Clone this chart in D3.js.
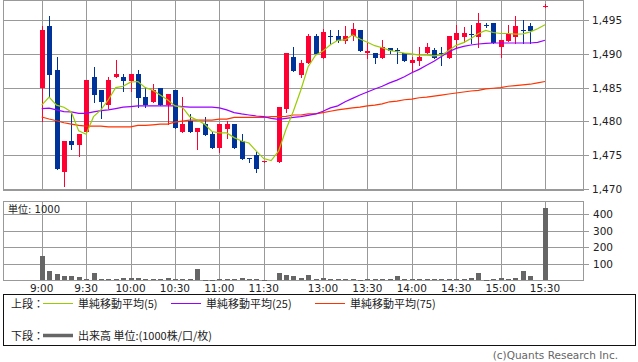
<!DOCTYPE html>
<html>
<head>
<meta charset="utf-8">
<script src="https://cdn.jsdelivr.net/npm/d3@7"></script>
<style>
  body { margin: 0; background: #fff; }
  svg { display: block; }
</style>
</head>
<body>
<div id="chart"></div>
<script>
// 5 minute bars: index 0 = 9:00, 31 = lunch gap, 67 = closing auction (no trades), 68 = 15:30
const tickIndex = [0, 6, 12, 18, 24, 30, 38, 44, 50, 56, 62, 68];
const tickLabels = ["9:00", "9:30", "10:00", "10:30", "11:00", "11:30", "13:00", "13:30", "14:00", "14:30", "15:00", "15:30"];
const priceTicks = [1470, 1475, 1480, 1485, 1490, 1495];
const volumeTicks = [100, 200, 300, 400];

const openPrices = [
  1485.0, 1494.1, 1487.6, 1472.5, 1477.1, 1476.55, 1478.5, 1486.6, 1484.6, 1482.5,
  1486.5, 1486.6, 1486.0, 1487.0, 1483.6, 1482.9, 1485.0, 1482.5, 1484.6, 1478.5,
  1480.0, 1478.5, 1479.6, 1478.1, 1476.0, 1478.9, 1479.6, 1477.05, 1474.55, 1475.0,
  1474.1, null, 1474.0, 1481.9, 1489.6, 1486.9, 1488.6, 1492.6, 1489.4, 1492.6,
  1492.6, 1491.9, 1492.6, 1493.5, 1490.07, 1490.07, 1489.4, 1490.9, 1490.5, 1490.1,
  1488.6, 1489.0, 1490.1, 1490.56, 1490.1, 1489.4, 1492.0, 1492.5, 1493.0, 1492.5,
  1494.2, 1494.5, 1490.96, 1491.9, 1492.5, 1493.45, 1494.1, null, 1497.1
];
const highPrices = [
  1494.1, 1495.6, 1489.5, 1477.1, 1481.2, 1478.1, 1486.1, 1488.0, 1484.6, 1486.6,
  1489.1, 1487.0, 1487.0, 1487.6, 1485.0, 1485.5, 1485.0, 1484.05, 1484.6, 1483.65,
  1481.1, 1479.0, 1480.6, 1478.5, 1479.6, 1480.05, 1479.6, 1478.1, 1474.55, 1475.5,
  1474.1, null, 1482.2, 1490.1, 1491.05, 1489.1, 1493.0, 1493.0, 1493.6, 1493.5,
  1493.5, 1494.1, 1494.5, 1493.5, 1491.7, 1490.07, 1492.0, 1490.9, 1490.9, 1490.1,
  1489.5, 1491.05, 1491.55, 1490.9, 1491.0, 1492.6, 1494.3, 1494.0, 1494.3, 1496.0,
  1494.5, 1494.5, 1492.0, 1494.3, 1495.6, 1495.0, 1494.5, null, 1497.3
];
const lowPrices = [
  1480.0, 1483.6, 1473.0, 1470.5, 1475.9, 1474.9, 1478.5, 1482.9, 1480.5, 1482.0,
  1486.5, 1484.5, 1484.5, 1482.1, 1482.1, 1482.9, 1482.5, 1479.6, 1479.0, 1478.5,
  1478.5, 1475.9, 1478.0, 1476.0, 1475.5, 1477.5, 1476.0, 1474.5, 1474.0, 1472.5,
  1474.0, null, 1474.0, 1481.4, 1487.5, 1486.5, 1488.6, 1490.0, 1489.4, 1491.55,
  1491.8, 1491.55, 1492.1, 1490.46, 1489.4, 1488.6, 1489.4, 1490.07, 1488.6, 1489.0,
  1487.5, 1488.3, 1490.1, 1489.4, 1488.3, 1489.4, 1490.8, 1491.8, 1491.55, 1491.05,
  1494.0, 1491.55, 1489.5, 1491.9, 1491.55, 1491.55, 1491.55, null, 1496.9
];
const closePrices = [
  1493.5, 1486.9, 1473.0, 1477.1, 1476.55, 1478.1, 1486.1, 1483.95, 1482.9, 1486.1,
  1487.0, 1486.0, 1487.0, 1483.5, 1482.5, 1484.6, 1482.5, 1484.05, 1479.0, 1479.6,
  1478.5, 1479.0, 1478.0, 1476.0, 1479.6, 1479.6, 1476.0, 1474.5, 1474.4, 1473.0,
  1474.1, null, 1482.2, 1490.1, 1487.5, 1488.6, 1492.6, 1490.0, 1493.2, 1492.55,
  1491.9, 1492.6, 1493.6, 1490.46, 1490.46, 1489.4, 1491.05, 1490.46, 1490.45, 1489.0,
  1489.1, 1489.6, 1491.05, 1489.4, 1490.0, 1492.6, 1493.1, 1493.1, 1492.9, 1494.5,
  1494.1, 1491.55, 1492.0, 1493.0, 1494.1, 1493.35, 1493.4, null, 1497.1
];
// volume, unit 1000
const volumes = [
  150, 55, 40, 26, 30, 24, 12, 48, 12, 12,
  12, 18, 18, 18, 12, 12, 12, 18, 12, 12,
  8, 67, 2, 6, 12, 12, 8, 18, 8, 12,
  3, null, 48, 36, 30, 18, 36, 12, 18, 8,
  8, 8, 8, 5, 12, 8, 12, 8, 30, 8,
  12, 12, 12, 8, 12, 12, 8, 8, 18, 48,
  3, 8, 18, 12, 18, 55, 30, null, 440
];
const ma5 = [
  1482.4, 1483.6, 1482.4, 1482.1, 1481.4, 1478.6, 1478.1, 1480.7, 1481.7, 1483.2,
  1485.0, 1485.2, 1485.8, 1485.9, 1485.0, 1484.6, 1483.9, 1483.2, 1482.3, 1482.1,
  1480.7, 1480.2, 1479.6, 1478.5, 1478.3, 1478.3, 1477.6, 1477.1, 1476.8, 1475.6,
  1474.5, 1474.2, 1475.6, 1478.8, 1481.5, 1484.6, 1488.1, 1489.8, 1490.4, 1491.35,
  1492.0, 1492.05, 1492.8, 1492.2, 1491.7, 1491.2, 1490.9, 1490.5, 1490.3, 1490.1,
  1490.0, 1489.8, 1489.8, 1489.7, 1489.8, 1490.5, 1491.25, 1491.65, 1492.25, 1493.0,
  1493.45, 1493.15, 1493.0, 1493.0, 1492.9, 1492.95, 1493.25, 1493.7, 1494.3
];
const ma25 = [
  1481.9, 1481.95, 1481.7, 1481.45, 1481.4, 1481.2, 1481.2, 1481.4, 1481.6, 1481.7,
  1481.9, 1482.1, 1482.2, 1482.3, 1482.3, 1482.3, 1482.3, 1482.3, 1482.3, 1482.2,
  1482.1, 1482.1, 1482.1, 1482.1, 1482.0, 1481.7, 1481.3, 1481.1, 1480.95, 1480.8,
  1480.7, 1480.45, 1480.3, 1480.45, 1480.6, 1480.7, 1480.9, 1481.1, 1481.5, 1482.0,
  1482.3, 1482.9, 1483.4, 1483.9, 1484.35, 1484.8, 1485.2, 1485.7, 1486.1, 1486.6,
  1487.2, 1487.7, 1488.3, 1488.9, 1489.6, 1490.3, 1490.8, 1491.1, 1491.3, 1491.45,
  1491.55, 1491.6, 1491.6, 1491.6, 1491.6, 1491.6, 1491.6, 1491.7, 1492.0
];
const ma75 = [
  1480.65, 1480.35, 1480.1, 1479.8, 1479.6, 1479.4, 1479.3, 1479.3, 1479.3, 1479.2,
  1479.2, 1479.2, 1479.2, 1479.4, 1479.4, 1479.5, 1479.6, 1479.6, 1479.9, 1480.05,
  1480.2, 1480.2, 1480.2, 1480.2, 1480.35, 1480.35, 1480.6, 1480.6, 1480.6, 1480.6,
  1480.6, 1480.7, 1480.7, 1480.75, 1480.95, 1480.95, 1481.1, 1481.1, 1481.3, 1481.5,
  1481.7, 1481.85, 1482.0, 1482.1, 1482.3, 1482.4, 1482.6, 1482.9, 1483.0, 1483.2,
  1483.3, 1483.5, 1483.6, 1483.75, 1483.9, 1484.05, 1484.2, 1484.35, 1484.5, 1484.6,
  1484.8, 1484.9, 1485.0, 1485.2, 1485.3, 1485.4, 1485.5, 1485.7, 1485.9
];

const legendUpper = [
  {label: "単純移動平均(5)", color: "#99cc00"},
  {label: "単純移動平均(25)", color: "#9900ff"},
  {label: "単純移動平均(75)", color: "#ff3300"}
];

class IntradayChart {
  constructor(parentId, width, height) {
    this.parentId = parentId;
    this.width = width;
    this.height = height;

    this.price = {left: 3.5, right: 583.5, top: 0.5, bottom: 190.5};
    this.vol = {left: 3.5, right: 583.5, top: 201.5, bottom: 280.5};

    this.up = "#ff0033";
    this.down = "#003399";
    this.grid = "#999999";
    this.numFont = '"DejaVu Sans", sans-serif';
    this.jpFont = '"Noto Sans CJK JP", sans-serif';

    this.init();
  }

  init() {
    let vis = this;

    vis.svg = d3.select("#" + vis.parentId)
      .append("svg")
      .attr("width", vis.width)
      .attr("height", vis.height);

    vis.x = d3.scaleLinear().domain([0, 68]).range([41.7, 545]);
    vis.y = d3.scaleLinear().domain([1470, 1495]).range([189, 20]);
    vis.yVol = d3.scaleLinear().domain([0, 400]).range([280.5, 214.3]);

    vis.drawFrames();
    vis.drawVolume();
    vis.drawCandles();
    vis.drawAverages();
    vis.drawLegend();
  }

  px(i) {
    return Math.round(this.x(i)) + 0.5;
  }

  drawFrames() {
    let vis = this;
    let g = vis.svg.append("g")
      .attr("stroke", vis.grid)
      .attr("shape-rendering", "crispEdges");

    [vis.price, vis.vol].forEach(p => {
      g.append("rect")
        .attr("x", p.left).attr("y", p.top)
        .attr("width", p.right - p.left).attr("height", p.bottom - p.top)
        .attr("fill", "none");

      g.selectAll(null)
        .data(tickIndex)
        .join("line")
        .attr("x1", d => vis.px(d)).attr("x2", d => vis.px(d))
        .attr("y1", p.top).attr("y2", p.bottom);
    });

    // price grid + right axis
    g.selectAll(null)
      .data(priceTicks)
      .join("line")
      .attr("x1", vis.price.left).attr("x2", vis.price.right + 5)
      .attr("y1", d => Math.round(vis.y(d)) + 0.5)
      .attr("y2", d => Math.round(vis.y(d)) + 0.5);

    vis.svg.append("g")
      .selectAll("text")
      .data(priceTicks)
      .join("text")
      .attr("x", 592)
      .attr("y", d => vis.y(d) + 4)
      .style("font-family", vis.numFont)
      .style("font-size", "10.5px")
      .attr("fill", "#222")
      .text(d => d3.format(",")(d));

    // volume grid + right axis
    g.selectAll(null)
      .data(volumeTicks)
      .join("line")
      .attr("x1", vis.vol.left).attr("x2", vis.vol.right + 5)
      .attr("y1", d => Math.round(vis.yVol(d)) + 0.5)
      .attr("y2", d => Math.round(vis.yVol(d)) + 0.5);

    vis.svg.append("g")
      .selectAll("text")
      .data(volumeTicks)
      .join("text")
      .attr("x", 593)
      .attr("y", d => vis.yVol(d) + 4)
      .style("font-family", vis.numFont)
      .style("font-size", "10.5px")
      .attr("fill", "#222")
      .text(d => d);

    // time labels
    vis.svg.append("g")
      .selectAll("text")
      .data(tickIndex)
      .join("text")
      .attr("x", d => vis.x(d))
      .attr("y", 292)
      .attr("text-anchor", "middle")
      .style("font-family", vis.numFont)
      .style("font-size", "10.5px")
      .attr("fill", "#222")
      .text((d, i) => tickLabels[i]);

    vis.svg.append("text")
      .attr("x", 8)
      .attr("y", 213)
      .style("font-family", '"DejaVu Sans", "Noto Sans CJK JP", sans-serif')
      .style("font-size", "10px")
      .attr("fill", "#222")
      .text("単位: 1000");
  }

  drawVolume() {
    let vis = this;
    let bars = volumes.map((v, i) => ({i: i, v: v})).filter(d => d.v != null);

    vis.svg.append("g")
      .attr("shape-rendering", "crispEdges")
      .selectAll("rect")
      .data(bars)
      .join("rect")
      .attr("x", d => Math.round(vis.x(d.i)) - 2)
      .attr("width", 5)
      .attr("y", d => Math.round(vis.yVol(d.v)))
      .attr("height", d => Math.max(1, 280 - Math.round(vis.yVol(d.v))))
      .attr("fill", "#666666");
  }

  drawCandles() {
    let vis = this;
    let data = openPrices.map((o, i) => ({
      i: i, o: o, h: highPrices[i], l: lowPrices[i], c: closePrices[i]
    })).filter(d => d.o != null);

    let g = vis.svg.append("g").attr("shape-rendering", "crispEdges");

    g.selectAll("line")
      .data(data)
      .join("line")
      .attr("x1", d => vis.px(d.i)).attr("x2", d => vis.px(d.i))
      .attr("y1", d => Math.round(vis.y(d.h)))
      .attr("y2", d => Math.round(vis.y(d.l)) + 1)
      .attr("stroke", d => d.c >= d.o ? vis.up : vis.down);

    g.selectAll("rect")
      .data(data)
      .join("rect")
      .attr("x", d => Math.round(vis.x(d.i)) - 2)
      .attr("width", 5)
      .attr("y", d => Math.round(vis.y(Math.max(d.o, d.c))))
      .attr("height", d => Math.max(1, Math.round(vis.y(Math.min(d.o, d.c))) - Math.round(vis.y(Math.max(d.o, d.c)))))
      .attr("fill", d => d.c >= d.o ? vis.up : vis.down);
  }

  drawAverages() {
    let vis = this;
    let line = d3.line()
      .x((d, i) => vis.x(i))
      .y(d => vis.y(d));

    [[ma75, "#ff3300"], [ma25, "#9900ff"], [ma5, "#99cc00"]].forEach(([s, color]) => {
      vis.svg.append("path")
        .datum(s)
        .attr("d", line)
        .attr("fill", "none")
        .attr("stroke", color)
        .attr("stroke-width", 1.2);
    });
  }

  drawLegend() {
    let vis = this;
    let g = vis.svg.append("g");

    g.append("rect")
      .attr("x", 3.5).attr("y", 294.5)
      .attr("width", 632).attr("height", 51)
      .attr("fill", "none")
      .attr("stroke", "#111")
      .attr("shape-rendering", "crispEdges");

    let text = (x, y, t) => g.append("text")
      .attr("x", x).attr("y", y)
      .style("font-family", vis.jpFont)
      .style("font-size", "11px")
      .attr("fill", "#222")
      .text(t);

    text(11, 307.5, "上段：");
    text(11, 339.5, "下段：");

    let lineX = [43, 171, 315];
    legendUpper.forEach((d, i) => {
      g.append("line")
        .attr("x1", lineX[i]).attr("x2", lineX[i] + 30)
        .attr("y1", 303.5).attr("y2", 303.5)
        .attr("stroke", d.color);
      text(lineX[i] + 35, 307.5, d.label);
    });

    g.append("line")
      .attr("x1", 43).attr("x2", 73)
      .attr("y1", 335.5).attr("y2", 335.5)
      .attr("stroke", "#666666")
      .attr("stroke-width", 3.5);
    text(78, 339.5, "出来高 単位:(1000株/口/枚)");

    vis.svg.append("text")
      .attr("x", 618).attr("y", 359)
      .attr("text-anchor", "end")
      .style("font-family", vis.numFont)
      .style("font-size", "10.5px")
      .attr("fill", "#666")
      .text("(c)Quants Research Inc.");
  }
}

new IntradayChart("chart", 638, 362);
</script>
</body>
</html>
